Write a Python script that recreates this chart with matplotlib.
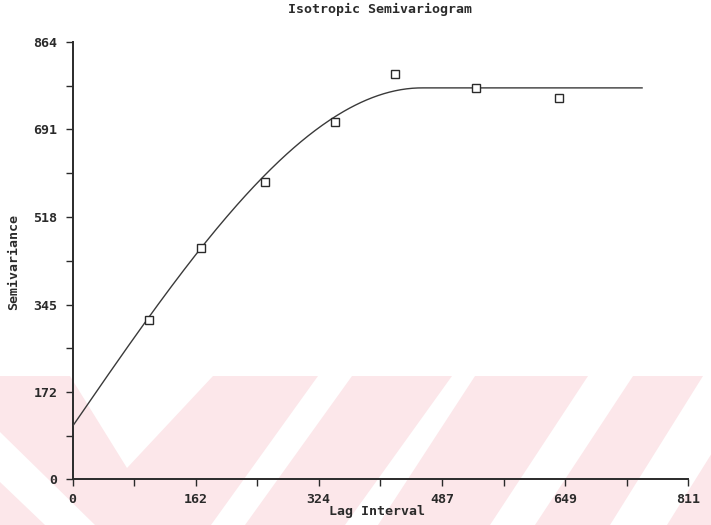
import numpy as np
import matplotlib
matplotlib.use("Agg")
import matplotlib.pyplot as plt
from matplotlib.patches import Polygon

# Experimental semivariogram: lag distance vs. semivariance
lags = [100, 169, 254, 346, 425, 531, 640]
semivariance = [314, 456, 587, 705, 800, 772, 753]

# Fitted spherical model parameters
nugget = 105.0
sill = 773.0
model_range = 460.0
model_max_lag = 750.0

x_ticks = [0, 162, 324, 487, 649, 811]
y_ticks = [0, 172, 345, 518, 691, 864]
x_minor = [81, 243, 405, 568, 730]
y_minor = [86, 259, 432, 605, 777]

W, H = 711, 525
ink = "#2a2a2a"
font = {"family": "DejaVu Sans Mono", "weight": "bold"}

fig = plt.figure(figsize=(W / 100, H / 100), dpi=100)
fig.patch.set_facecolor("white")

# Pale pink diagonal band background in the lower part of the page
def px(points):
    return [(x / W, 1 - y / H) for x, y in points]

pink = "#fce7ea"
fig.patches.append(Polygon(px([(0, 376), (W, 376), (W, H), (0, H)]),
                           closed=True, transform=fig.transFigure,
                           facecolor=pink, edgecolor="none", zorder=-10))
white_shapes = [
    [(70, 376), (213, 376), (127, 468)],
    [(0, 432), (0, 482), (45, 525), (95, 525)],
    [(318, 376), (352, 376), (245, 525), (211, 525)],
    [(452, 376), (475, 376), (378, 525), (345, 525)],
    [(588, 376), (633, 376), (535, 525), (490, 525)],
    [(703, 376), (760, 376), (667, 525), (610, 525)],
]
for shape in white_shapes:
    fig.patches.append(Polygon(px(shape), closed=True, transform=fig.transFigure,
                               facecolor="white", edgecolor="none", zorder=-9))

ax = fig.add_axes([72.6 / W, 1 - 479.4 / H, (688.4 - 72.6) / W, (479.4 - 41.8) / H])
ax.set_facecolor("none")
ax.set_zorder(1)

# Spherical model curve
h = np.linspace(0, model_max_lag, 400)
r = np.clip(h / model_range, 0, 1)
gamma_model = nugget + (sill - nugget) * (1.5 * r - 0.5 * r ** 3)
ax.plot(h, gamma_model, color="#3a3a3a", lw=1.0, zorder=3)

ax.plot(lags, semivariance, linestyle="none", marker="s", markersize=6,
        markerfacecolor="white", markeredgecolor=ink, markeredgewidth=1.0, zorder=4)

ax.set_xlim(0, 811)
ax.set_ylim(0, 864)
ax.spines["top"].set_visible(False)
ax.spines["right"].set_visible(False)
for s in ("left", "bottom"):
    ax.spines[s].set_color(ink)
    ax.spines[s].set_linewidth(1.4)

ax.set_xticks(x_ticks)
ax.set_yticks(y_ticks)
ax.set_xticks(x_minor, minor=True)
ax.set_yticks(y_minor, minor=True)
ax.set_xticklabels([str(v) for v in x_ticks], fontdict=font, fontsize=9.5, color=ink)
ax.set_yticklabels([str(v) for v in y_ticks], fontdict=font, fontsize=9.5, color=ink)
ax.tick_params(which="both", direction="out", length=5, width=1.0, color=ink)
ax.tick_params(axis="x", pad=5)
ax.tick_params(axis="y", pad=6)

fig.text(380 / W, 1 - 9 / H, "Isotropic Semivariogram", ha="center", va="center",
         fontsize=9.5, color=ink, **font)
fig.text(377 / W, 1 - 512 / H, "Lag Interval", ha="center", va="center",
         fontsize=9.5, color=ink, **font)
fig.text(13.5 / W, 1 - 262 / H, "Semivariance", ha="center", va="center",
         rotation=90, fontsize=9.5, color=ink, **font)

fig.savefig("out.png", dpi=100, facecolor="white")
